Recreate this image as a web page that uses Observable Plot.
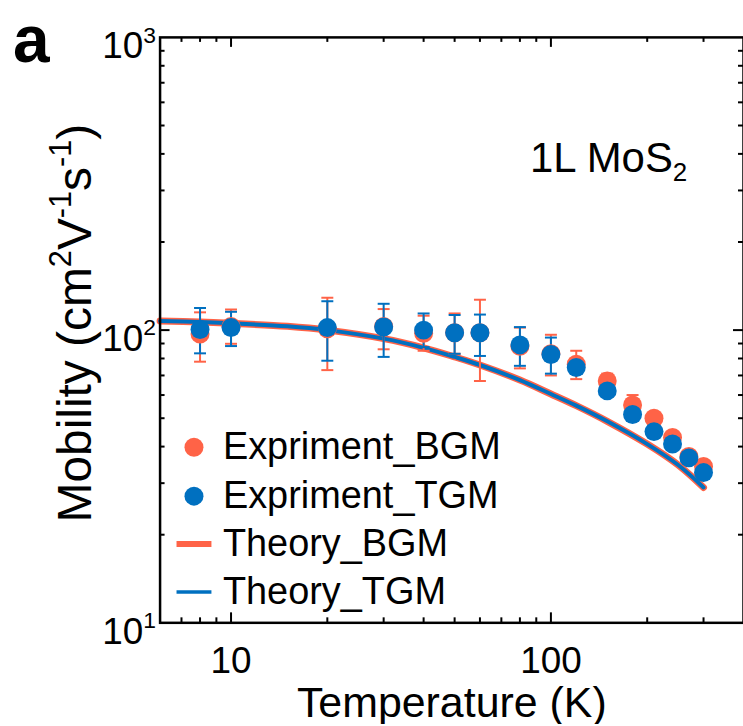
<!DOCTYPE html>
<html><head><meta charset="utf-8">
<script src="https://cdn.jsdelivr.net/npm/d3@7"></script>
<script src="https://cdn.jsdelivr.net/npm/@observablehq/plot@0.6"></script>
<style>html,body{margin:0;padding:0;background:#fff;overflow:hidden;}</style>
</head><body><div id="chart"></div>
<script>
// ---- data ----
const temps   = [8, 10, 20, 30, 40, 50, 60, 80, 100, 120, 150, 180, 210, 240, 270, 300];
const mobBGM  = [97, 103, 101, 103, 97.5, 98, 98, 88, 83, 76.5, 67, 55.5, 50, 43, 37, 34.2];
const mobTGM  = [100.5, 102, 102, 102.5, 100, 98, 98, 89, 82.5, 74.5, 62, 51.5, 45, 40.8, 36.6, 32.6];
const errTemps = [8, 10, 20, 30, 40, 50, 60, 80, 100, 120, 150, 180];
const bgmLow  = [78, 89.8, 73, 86, 85, 83, 67, 74, 70, 68, 62, 51];
const bgmHigh = [115, 117.6, 129, 118, 112, 114, 127, 102, 96.4, 85, 71, 60];
const tgmLow  = [83.3, 88.2, 78.6, 81, 87.5, 83, 81.6, 75.5, 71, 71, 61, 50.5];
const tgmHigh = [119, 115.5, 125.5, 123, 114, 112.6, 113, 102.4, 94.3, 78, 63, 52.5];
const thTemps = [6, 8, 10, 15, 20, 30, 40, 50, 60, 80, 100, 120, 150, 200, 250, 300];
const thBGM   = [107.5, 106.5, 105.5, 103, 100, 93.5, 87, 81, 76, 67.5, 60.5, 55.2, 48.8, 40.8, 34.6, 29];
const thTGM   = [107.5, 106.5, 105.5, 103, 100, 93.5, 87, 81, 76, 67.5, 60.5, 55.2, 48.8, 40.8, 34.6, 29];
const legendLabels = ["Expriment_BGM", "Expriment_TGM", "Theory_BGM", "Theory_TGM"];
const xMajor = [10, 100];
const xMinor = [7, 8, 9, 20, 30, 40, 50, 60, 70, 80, 90, 200, 300];
const yMajor = [100];
const yMinor = [20, 30, 40, 50, 60, 70, 80, 90, 200, 300, 400, 500, 600, 700, 800, 900];
const yTickLabels = [10, 100, 1000];
const xTitle = "Temperature (K)";
const yTitle = "Mobility (cm^{2}V^{-1}s^{-1})";
const annot = "1L MoS_{2}";
const panel = "a";

// ---- styling ----
const ORANGE = "#FF6347", BLUE = "#0070C0";
const W = 745, H = 726, ML = 160, MR = 0, MT = 37, MB = 102;
const FW = W - ML - MR, FH = H - MT - MB;
const FONT = "'Liberation Sans', Arial, sans-serif";

const pts = (ys) => temps.map((t, i) => ({t, v: ys[i]}));
const errs = (lo, hi) => errTemps.map((t, i) => ({t, lo: lo[i], hi: hi[i]}));
const th = (ys) => thTemps.map((t, i) => ({t, v: ys[i]}));
const cap = {draw(ctx) { ctx.moveTo(-6, 0); ctx.lineTo(6, 0); }};
const hline = {draw(ctx) { ctx.moveTo(-17.5, 0); ctx.lineTo(17.5, 0); }};

function errMarks(data, color) {
  return [
    Plot.ruleX(data, {x: "t", y1: "lo", y2: "hi", stroke: color, strokeWidth: 2}),
    Plot.dot(data, {x: "t", y: "lo", symbol: cap, fill: "none", stroke: color, strokeWidth: 2}),
    Plot.dot(data, {x: "t", y: "hi", symbol: cap, fill: "none", stroke: color, strokeWidth: 2})
  ];
}
const one = [0];
const legY = [411, 460, 508, 556];
const T = (o) => ({fontFamily: FONT, ...o});

const chart = Plot.plot({
  width: W, height: H,
  marginLeft: ML, marginRight: MR, marginTop: MT, marginBottom: MB,
  style: {fontFamily: FONT, background: "white", overflow: "visible"},
  x: {type: "log", domain: [6, 400]},
  y: {type: "log", domain: [10, 1000]},
  marks: [
    Plot.line(th(thBGM), {x: "t", y: "v", stroke: ORANGE, strokeWidth: 7, curve: "catmull-rom"}),
    Plot.line(th(thTGM), {x: "t", y: "v", stroke: BLUE, strokeWidth: 4, curve: "catmull-rom"}),
    ...errMarks(errs(bgmLow, bgmHigh), ORANGE),
    ...errMarks(errs(tgmLow, tgmHigh), BLUE),
    Plot.dot(pts(mobBGM), {x: "t", y: "v", r: 9.5, fill: ORANGE}),
    Plot.dot(pts(mobTGM), {x: "t", y: "v", r: 9.5, fill: BLUE}),
    // inward ticks
    Plot.tickX(xMajor, {x: d => d, insetTop: FH - 10, stroke: "black", strokeWidth: 2}),
    Plot.tickX(xMajor, {x: d => d, insetBottom: FH - 10, stroke: "black", strokeWidth: 2}),
    Plot.tickX(xMinor, {x: d => d, insetTop: FH - 5, stroke: "black", strokeWidth: 2}),
    Plot.tickX(xMinor, {x: d => d, insetBottom: FH - 5, stroke: "black", strokeWidth: 2}),
    Plot.tickY(yMajor, {y: d => d, insetRight: FW - 10, stroke: "black", strokeWidth: 2}),
    Plot.tickY(yMajor, {y: d => d, insetLeft: FW - 10, stroke: "black", strokeWidth: 2}),
    Plot.tickY(yMinor, {y: d => d, insetRight: FW - 5, stroke: "black", strokeWidth: 2}),
    Plot.tickY(yMinor, {y: d => d, insetLeft: FW - 5, stroke: "black", strokeWidth: 2}),
    Plot.frame({stroke: "black", strokeWidth: 2.5}),
    // tick labels
    Plot.axisX(xMajor, T({anchor: "bottom", tickSize: 0, tickPadding: 24, fontSize: 37, tickFormat: d => String(d), label: null})),
    Plot.axisY(yTickLabels, T({anchor: "left", tickSize: 0, tickPadding: 4, fontSize: 37, dy: 9, tickFormat: d => "10^{" + Math.round(Math.log10(d)) + "}", label: null})),
    // titles
    Plot.text(one, T({frameAnchor: "bottom", text: () => xTitle, fontSize: 43, dy: 81, lineAnchor: "middle"})),
    Plot.text(one, T({frameAnchor: "left", text: () => yTitle, fontSize: 48, rotate: -90, dx: -85, dy: -7, textAnchor: "middle", lineAnchor: "middle"})),
    Plot.text(one, T({frameAnchor: "top-left", text: () => annot, fontSize: 42, dx: 371, dy: 122, textAnchor: "start", lineAnchor: "middle"})),
    Plot.text(one, T({frameAnchor: "top-left", text: () => panel, fontSize: 66, fontWeight: "bold", dx: -129, dy: 4, textAnchor: "middle", lineAnchor: "middle"})),
    // legend
    Plot.dot(one, {frameAnchor: "top-left", dx: 34, dy: legY[0], r: 9.5, fill: ORANGE}),
    Plot.dot(one, {frameAnchor: "top-left", dx: 34, dy: legY[1], r: 9.5, fill: BLUE}),
    Plot.dot(one, {frameAnchor: "top-left", dx: 34, dy: legY[2], symbol: hline, fill: "none", stroke: ORANGE, strokeWidth: 6}),
    Plot.dot(one, {frameAnchor: "top-left", dx: 34, dy: legY[3], symbol: hline, fill: "none", stroke: BLUE, strokeWidth: 3.5}),
    ...legendLabels.map((s, i) => Plot.text(one, T({frameAnchor: "top-left", text: () => s, dx: 63, dy: legY[i], fontSize: 38, textAnchor: "start", lineAnchor: "middle"})))
  ]
});

// rich text: ^{..} superscript, _{..} subscript
function rich(el, str, fs, scale) {
  const re = /\^\{([^}]*)\}|_\{([^}]*)\}|((?:(?!\^\{|_\{).)+)/g;
  el.textContent = "";
  let cur = 0, m;
  while ((m = re.exec(str))) {
    const ts = document.createElementNS("http://www.w3.org/2000/svg", "tspan");
    let target = 0, txt;
    if (m[1] !== undefined) { target = -0.42 * fs; txt = m[1]; ts.setAttribute("font-size", scale * fs); }
    else if (m[2] !== undefined) { target = 0.2 * fs; txt = m[2]; ts.setAttribute("font-size", scale * fs); }
    else { txt = m[3]; }
    ts.setAttribute("dy", target - cur);
    cur = target;
    ts.textContent = txt;
    el.appendChild(ts);
  }
}
const svg = d3.select(chart);
svg.selectAll("text").each(function() {
  const s = this.textContent;
  if (/^10\^\{/.test(s)) rich(this, s, 37, 0.62);
  else if (s === yTitle) rich(this, s, 48, 0.64);
  else if (s === annot) rich(this, s, 42, 0.62);
});
document.getElementById("chart").appendChild(chart);
</script></body></html>
